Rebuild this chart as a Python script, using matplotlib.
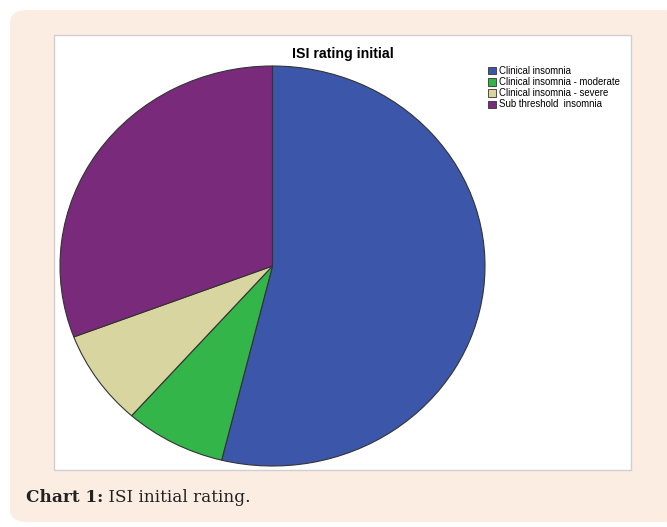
import matplotlib
matplotlib.use("Agg")
import matplotlib.pyplot as plt
from matplotlib.patches import FancyBboxPatch, Rectangle

categories = ["Clinical insomnia", "Clinical insomnia - moderate",
              "Clinical insomnia - severe", "Sub threshold  insomnia"]
counts = [14, 2, 2, 8]
colors = ["#3c57a9", "#33b54a", "#d9d5a1", "#7a2a7a"]
title = "ISI rating initial"
caption_bold = "Chart 1:"
caption_rest = " ISI initial rating."

W, H = 667, 527
fig = plt.figure(figsize=(W / 100, H / 100), dpi=100)
fig.patch.set_facecolor("white")

def fx(x): return x / W
def fy(y): return 1 - y / H

# peach rounded panel
panel = FancyBboxPatch((fx(10), fy(522)), fx(680) - fx(10), fy(10) - fy(522),
                       boxstyle="round,pad=0,rounding_size=0.025",
                       transform=fig.transFigure, facecolor="#fcede3",
                       edgecolor="none", zorder=0)
fig.patches.append(panel)
# white chart box
box = Rectangle((fx(54), fy(470)), fx(631) - fx(54), fy(35) - fy(470),
                transform=fig.transFigure, facecolor="white",
                edgecolor="#cfcfcf", linewidth=1.0, zorder=1)
fig.patches.append(box)

ax = fig.add_axes([fx(60), fy(466), fx(485) - fx(60), fy(66) - fy(466)])
ax.pie(counts, colors=colors, startangle=90, counterclock=False,
       wedgeprops=dict(edgecolor="#333333", linewidth=0.8))
ax.set_aspect("auto")
ax.set_xlim(-1.0, 1.0)
ax.set_ylim(-1.0, 1.0)
ax.axis("off")
ax.set_zorder(2)

fig.text(fx(343), fy(58), title, ha="center", va="baseline",
         fontsize=10.2, fontweight="bold", family="Liberation Sans", zorder=3)

# legend
for i, (lab, col) in enumerate(zip(categories, colors)):
    y = 70.5 + i * 11.3
    fig.patches.append(Rectangle((fx(487.5), fy(y + 3.8)), fx(8), fy(0) - fy(7.6),
                                 transform=fig.transFigure, facecolor=col,
                                 edgecolor="#333333", linewidth=0.6, zorder=3))
    fig.text(fx(499), fy(y), lab, ha="left", va="center", fontsize=6.9,
             family="Liberation Sans", zorder=3)

t1 = fig.text(fx(26), fy(497), caption_bold, ha="left", va="center",
              fontsize=12.2, fontweight="bold", family="DejaVu Serif",
              color="#222222", zorder=3)
fig.canvas.draw()
bb = t1.get_window_extent()
fig.text(bb.x1 / W, fy(497), caption_rest, ha="left", va="center",
         fontsize=12.2, family="DejaVu Serif", color="#222222", zorder=3)

fig.savefig("out.png", dpi=100, facecolor=fig.get_facecolor())
